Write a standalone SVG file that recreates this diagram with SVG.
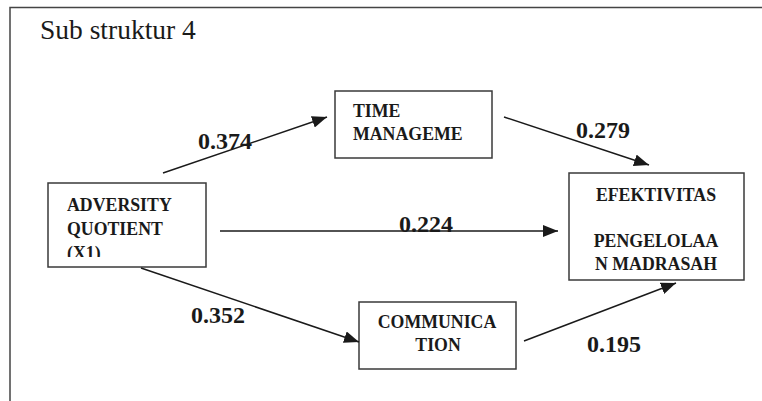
<svg xmlns="http://www.w3.org/2000/svg" width="762" height="401" viewBox="0 0 762 401">
<style>
.box{fill:#fff;stroke:#3a3a3a;stroke-width:1.5}
.nt{font-family:'Liberation Serif','Times New Roman',serif;font-weight:bold;font-size:17.8px;fill:#1a1a1a}
.lb{font-family:'Liberation Serif','Times New Roman',serif;font-weight:bold;font-size:24px;fill:#1a1a1a}
.title{font-family:'Liberation Serif','Times New Roman',serif;font-size:27.5px;fill:#1a1a1a}
.edge{stroke:#1a1a1a;stroke-width:1.5;fill:none;marker-end:url(#ah)}
</style>
<defs>
<marker id="ah" viewBox="0 0 15 12" refX="15" refY="6" markerWidth="15" markerHeight="12" markerUnits="userSpaceOnUse" orient="auto">
<path d="M0,0 L15,6 L0,12 Z" fill="#1a1a1a"/>
</marker>
<clipPath id="clipX1"><rect x="48" y="183" width="158" height="74"/></clipPath>
</defs>
<rect width="762" height="401" fill="#fff"/>
<path d="M10,401 V7.5 H762" fill="none" stroke="#444" stroke-width="1.5"/>
<text class="title" x="40" y="39">Sub struktur 4</text>

<g id="adversity">
<rect class="box" x="48" y="183" width="158" height="84"/>
<g clip-path="url(#clipX1)">
<text class="nt" x="67" y="211">ADVERSITY</text>
<text class="nt" x="67" y="234.5">QUOTIENT</text>
<text class="nt" x="67" y="259">(X1)</text>
</g>
</g>

<g id="time">
<rect class="box" x="335" y="91" width="157" height="67"/>
<text class="nt" x="353" y="117">TIME</text>
<text class="nt" x="353" y="140">MANAGEME</text>
</g>

<g id="efektivitas">
<rect class="box" x="569" y="173" width="175" height="107"/>
<text class="nt" x="656" y="201" text-anchor="middle">EFEKTIVITAS</text>
<text class="nt" x="656" y="247" text-anchor="middle">PENGELOLAA</text>
<text class="nt" x="656" y="270" text-anchor="middle">N MADRASAH</text>
</g>

<g id="communication">
<rect class="box" x="359" y="302" width="157" height="67"/>
<text class="nt" x="437" y="328" text-anchor="middle">COMMUNICA</text>
<text class="nt" x="438" y="351" text-anchor="middle">TION</text>
</g>

<g id="connectors">
<line class="edge" x1="163" y1="173" x2="327" y2="117"/>
<line class="edge" x1="504" y1="117" x2="649" y2="165"/>
<line class="edge" x1="220" y1="231" x2="558" y2="231"/>
<line class="edge" x1="141" y1="268" x2="359" y2="342"/>
<line class="edge" x1="524" y1="341" x2="676" y2="283"/>
</g>

<g id="labels">
<text class="lb" x="198" y="149">0.374</text>
<text class="lb" x="576" y="138">0.279</text>
<text class="lb" x="399" y="232">0.224</text>
<text class="lb" x="191" y="323">0.352</text>
<text class="lb" x="587" y="352">0.195</text>
</g>
</svg>
